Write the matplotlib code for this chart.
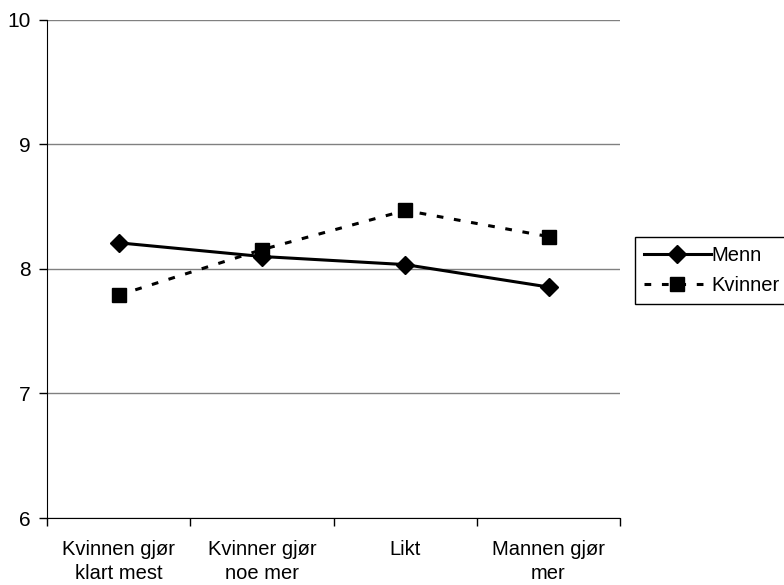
import numpy as np
import matplotlib
matplotlib.use("Agg")
import matplotlib.pyplot as plt

plt.rcParams['font.family'] = ['Liberation Sans', 'DejaVu Sans']

# Data
categories = ["Kvinnen gjør\nklart mest", "Kvinner gjør\nnoe mer", "Likt", "Mannen gjør\nmer"]
menn = [8.21, 8.10, 8.035, 7.855]
kvinner = [7.79, 8.155, 8.47, 8.26]

fig = plt.figure(figsize=(7.84, 5.85), dpi=100)
ax = fig.add_axes([0.06, 0.1145, 0.731, 0.8515])

x = np.arange(len(categories))
ax.plot(x, menn, color="black", lw=2.2, marker="D", markersize=9, label="Menn")
ax.plot(x, kvinner, color="black", lw=2.2, ls=(0, (2.2, 3.5)), marker="s",
        markersize=10, label="Kvinner")

ax.set_xlim(-0.5, len(categories) - 0.5)
ax.set_ylim(6, 10)
ax.set_yticks([6, 7, 8, 9, 10])
ax.yaxis.grid(True, color="#808080", lw=1)
ax.set_axisbelow(True)

# category labels centred, tick marks between categories
ax.set_xticks(x)
ax.set_xticklabels(categories, fontsize=14.5, linespacing=1.35)
ax.tick_params(axis="x", length=0, pad=16)
ax.set_xticks(np.arange(-0.5, len(categories)), minor=True)
ax.tick_params(axis="x", which="minor", length=6, width=1, direction="out")
ax.tick_params(axis="y", labelsize=15, length=6, width=1, direction="out", pad=6)

for side in ["top", "right"]:
    ax.spines[side].set_visible(False)
ax.spines["left"].set_color("black")
ax.spines["bottom"].set_color("black")

fig.legend(loc="upper left", bbox_to_anchor=(0.81, 0.595), fontsize=14.5,
           frameon=True, fancybox=False, edgecolor="black", framealpha=1,
           handlelength=3.3, borderpad=0.45, borderaxespad=0, handletextpad=0.05,
           labelspacing=0.55)

plt.savefig("out.png", dpi=100)
